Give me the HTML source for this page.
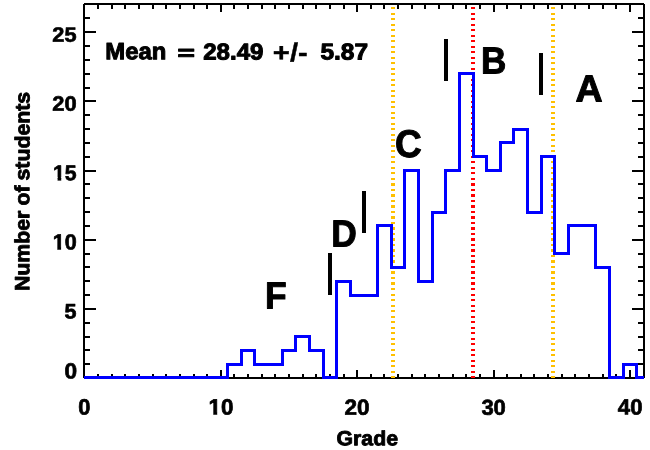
<!DOCTYPE html>
<html><head><meta charset="utf-8"><title>Grade histogram</title>
<style>html,body{margin:0;padding:0;background:#fff;}svg{display:block;}text{font-family:"Liberation Sans",sans-serif;font-weight:bold;fill:#000;}</style></head><body>
<svg width="650" height="450" viewBox="0 0 650 450">
<rect width="650" height="450" fill="#fff"/>
<g shape-rendering="crispEdges">
<g fill="#000">
<rect x="84" y="3" width="560" height="1"/><rect x="83" y="4" width="562" height="1"/>
<rect x="83" y="377" width="562" height="1"/><rect x="84" y="378" width="560" height="1"/>
<rect x="83" y="4" width="1" height="374"/><rect x="84" y="3" width="1" height="376"/>
<rect x="643" y="3" width="1" height="376"/><rect x="644" y="4" width="1" height="374"/>
<rect x="97" y="5" width="2" height="4"/>
<rect x="97" y="374" width="2" height="3"/>
<rect x="111" y="5" width="2" height="4"/>
<rect x="111" y="374" width="2" height="3"/>
<rect x="124" y="5" width="2" height="4"/>
<rect x="124" y="374" width="2" height="3"/>
<rect x="138" y="5" width="2" height="4"/>
<rect x="138" y="374" width="2" height="3"/>
<rect x="152" y="5" width="2" height="4"/>
<rect x="152" y="374" width="2" height="3"/>
<rect x="165" y="5" width="2" height="4"/>
<rect x="165" y="374" width="2" height="3"/>
<rect x="179" y="5" width="2" height="4"/>
<rect x="179" y="374" width="2" height="3"/>
<rect x="193" y="5" width="2" height="4"/>
<rect x="193" y="374" width="2" height="3"/>
<rect x="206" y="5" width="2" height="4"/>
<rect x="206" y="374" width="2" height="3"/>
<rect x="220" y="5" width="2" height="7"/>
<rect x="220" y="370" width="2" height="7"/>
<rect x="233" y="5" width="2" height="4"/>
<rect x="233" y="374" width="2" height="3"/>
<rect x="247" y="5" width="2" height="4"/>
<rect x="247" y="374" width="2" height="3"/>
<rect x="261" y="5" width="2" height="4"/>
<rect x="261" y="374" width="2" height="3"/>
<rect x="274" y="5" width="2" height="4"/>
<rect x="274" y="374" width="2" height="3"/>
<rect x="288" y="5" width="2" height="4"/>
<rect x="288" y="374" width="2" height="3"/>
<rect x="302" y="5" width="2" height="4"/>
<rect x="302" y="374" width="2" height="3"/>
<rect x="315" y="5" width="2" height="4"/>
<rect x="315" y="374" width="2" height="3"/>
<rect x="329" y="5" width="2" height="4"/>
<rect x="329" y="374" width="2" height="3"/>
<rect x="343" y="5" width="2" height="4"/>
<rect x="343" y="374" width="2" height="3"/>
<rect x="356" y="5" width="2" height="7"/>
<rect x="356" y="370" width="2" height="7"/>
<rect x="370" y="5" width="2" height="4"/>
<rect x="370" y="374" width="2" height="3"/>
<rect x="383" y="5" width="2" height="4"/>
<rect x="383" y="374" width="2" height="3"/>
<rect x="397" y="5" width="2" height="4"/>
<rect x="397" y="374" width="2" height="3"/>
<rect x="411" y="5" width="2" height="4"/>
<rect x="411" y="374" width="2" height="3"/>
<rect x="424" y="5" width="2" height="4"/>
<rect x="424" y="374" width="2" height="3"/>
<rect x="438" y="5" width="2" height="4"/>
<rect x="438" y="374" width="2" height="3"/>
<rect x="452" y="5" width="2" height="4"/>
<rect x="452" y="374" width="2" height="3"/>
<rect x="465" y="5" width="2" height="4"/>
<rect x="465" y="374" width="2" height="3"/>
<rect x="479" y="5" width="2" height="4"/>
<rect x="479" y="374" width="2" height="3"/>
<rect x="493" y="5" width="2" height="7"/>
<rect x="493" y="370" width="2" height="7"/>
<rect x="506" y="5" width="2" height="4"/>
<rect x="506" y="374" width="2" height="3"/>
<rect x="520" y="5" width="2" height="4"/>
<rect x="520" y="374" width="2" height="3"/>
<rect x="533" y="5" width="2" height="4"/>
<rect x="533" y="374" width="2" height="3"/>
<rect x="547" y="5" width="2" height="4"/>
<rect x="547" y="374" width="2" height="3"/>
<rect x="561" y="5" width="2" height="4"/>
<rect x="561" y="374" width="2" height="3"/>
<rect x="574" y="5" width="2" height="4"/>
<rect x="574" y="374" width="2" height="3"/>
<rect x="588" y="5" width="2" height="4"/>
<rect x="588" y="374" width="2" height="3"/>
<rect x="602" y="5" width="2" height="4"/>
<rect x="602" y="374" width="2" height="3"/>
<rect x="615" y="5" width="2" height="4"/>
<rect x="615" y="374" width="2" height="3"/>
<rect x="629" y="5" width="2" height="7"/>
<rect x="629" y="370" width="2" height="7"/>
<rect x="85" y="363" width="5" height="2"/>
<rect x="638" y="363" width="5" height="2"/>
<rect x="85" y="349" width="5" height="2"/>
<rect x="638" y="349" width="5" height="2"/>
<rect x="85" y="336" width="5" height="2"/>
<rect x="638" y="336" width="5" height="2"/>
<rect x="85" y="322" width="5" height="2"/>
<rect x="638" y="322" width="5" height="2"/>
<rect x="85" y="308" width="11" height="2"/>
<rect x="632" y="308" width="11" height="2"/>
<rect x="85" y="294" width="5" height="2"/>
<rect x="638" y="294" width="5" height="2"/>
<rect x="85" y="280" width="5" height="2"/>
<rect x="638" y="280" width="5" height="2"/>
<rect x="85" y="266" width="5" height="2"/>
<rect x="638" y="266" width="5" height="2"/>
<rect x="85" y="253" width="5" height="2"/>
<rect x="638" y="253" width="5" height="2"/>
<rect x="85" y="239" width="11" height="2"/>
<rect x="632" y="239" width="11" height="2"/>
<rect x="85" y="225" width="5" height="2"/>
<rect x="638" y="225" width="5" height="2"/>
<rect x="85" y="211" width="5" height="2"/>
<rect x="638" y="211" width="5" height="2"/>
<rect x="85" y="197" width="5" height="2"/>
<rect x="638" y="197" width="5" height="2"/>
<rect x="85" y="183" width="5" height="2"/>
<rect x="638" y="183" width="5" height="2"/>
<rect x="85" y="170" width="11" height="2"/>
<rect x="632" y="170" width="11" height="2"/>
<rect x="85" y="156" width="5" height="2"/>
<rect x="638" y="156" width="5" height="2"/>
<rect x="85" y="142" width="5" height="2"/>
<rect x="638" y="142" width="5" height="2"/>
<rect x="85" y="128" width="5" height="2"/>
<rect x="638" y="128" width="5" height="2"/>
<rect x="85" y="114" width="5" height="2"/>
<rect x="638" y="114" width="5" height="2"/>
<rect x="85" y="100" width="11" height="2"/>
<rect x="632" y="100" width="11" height="2"/>
<rect x="85" y="87" width="5" height="2"/>
<rect x="638" y="87" width="5" height="2"/>
<rect x="85" y="73" width="5" height="2"/>
<rect x="638" y="73" width="5" height="2"/>
<rect x="85" y="59" width="5" height="2"/>
<rect x="638" y="59" width="5" height="2"/>
<rect x="85" y="45" width="5" height="2"/>
<rect x="638" y="45" width="5" height="2"/>
<rect x="85" y="31" width="11" height="2"/>
<rect x="632" y="31" width="11" height="2"/>
<rect x="85" y="17" width="5" height="2"/>
<rect x="638" y="17" width="5" height="2"/>
</g>
<g fill="#ffc000"><rect x="391" y="7" width="4" height="2"/><rect x="391" y="13" width="4" height="2"/><rect x="391" y="18" width="4" height="2"/><rect x="391" y="24" width="4" height="2"/><rect x="391" y="29" width="4" height="2"/><rect x="391" y="35" width="4" height="2"/><rect x="391" y="40" width="4" height="2"/><rect x="391" y="46" width="4" height="2"/><rect x="391" y="51" width="4" height="2"/><rect x="391" y="57" width="4" height="2"/><rect x="391" y="62" width="4" height="2"/><rect x="391" y="68" width="4" height="2"/><rect x="391" y="73" width="4" height="2"/><rect x="391" y="79" width="4" height="2"/><rect x="391" y="84" width="4" height="2"/><rect x="391" y="90" width="4" height="2"/><rect x="391" y="95" width="4" height="2"/><rect x="391" y="101" width="4" height="2"/><rect x="391" y="106" width="4" height="2"/><rect x="391" y="112" width="4" height="2"/><rect x="391" y="117" width="4" height="2"/><rect x="391" y="123" width="4" height="2"/><rect x="391" y="128" width="4" height="2"/><rect x="391" y="134" width="4" height="2"/><rect x="391" y="139" width="4" height="2"/><rect x="391" y="145" width="4" height="2"/><rect x="391" y="150" width="4" height="2"/><rect x="391" y="156" width="4" height="2"/><rect x="391" y="161" width="4" height="2"/><rect x="391" y="167" width="4" height="2"/><rect x="391" y="172" width="4" height="2"/><rect x="391" y="178" width="4" height="2"/><rect x="391" y="183" width="4" height="3"/><rect x="391" y="189" width="4" height="2"/><rect x="391" y="194" width="4" height="3"/><rect x="391" y="200" width="4" height="2"/><rect x="391" y="205" width="4" height="3"/><rect x="391" y="211" width="4" height="2"/><rect x="391" y="216" width="4" height="3"/><rect x="391" y="222" width="4" height="2"/><rect x="391" y="227" width="4" height="3"/><rect x="391" y="233" width="4" height="2"/><rect x="391" y="238" width="4" height="3"/><rect x="391" y="244" width="4" height="2"/><rect x="391" y="249" width="4" height="3"/><rect x="391" y="255" width="4" height="2"/><rect x="391" y="260" width="4" height="3"/><rect x="391" y="266" width="4" height="2"/><rect x="391" y="271" width="4" height="3"/><rect x="391" y="277" width="4" height="2"/><rect x="391" y="282" width="4" height="3"/><rect x="391" y="288" width="4" height="2"/><rect x="391" y="294" width="4" height="2"/><rect x="391" y="299" width="4" height="2"/><rect x="391" y="305" width="4" height="2"/><rect x="391" y="310" width="4" height="2"/><rect x="391" y="316" width="4" height="2"/><rect x="391" y="321" width="4" height="2"/><rect x="391" y="327" width="4" height="2"/><rect x="391" y="332" width="4" height="2"/><rect x="391" y="338" width="4" height="2"/><rect x="391" y="343" width="4" height="2"/><rect x="391" y="349" width="4" height="2"/><rect x="391" y="354" width="4" height="2"/><rect x="391" y="360" width="4" height="2"/><rect x="391" y="365" width="4" height="2"/><rect x="391" y="371" width="4" height="2"/><rect x="391" y="376" width="4" height="2"/></g>
<g fill="#ffc000"><rect x="551" y="7" width="4" height="2"/><rect x="551" y="13" width="4" height="2"/><rect x="551" y="18" width="4" height="2"/><rect x="551" y="24" width="4" height="2"/><rect x="551" y="29" width="4" height="2"/><rect x="551" y="35" width="4" height="2"/><rect x="551" y="40" width="4" height="2"/><rect x="551" y="46" width="4" height="2"/><rect x="551" y="51" width="4" height="2"/><rect x="551" y="57" width="4" height="2"/><rect x="551" y="62" width="4" height="2"/><rect x="551" y="68" width="4" height="2"/><rect x="551" y="73" width="4" height="2"/><rect x="551" y="79" width="4" height="2"/><rect x="551" y="84" width="4" height="2"/><rect x="551" y="90" width="4" height="2"/><rect x="551" y="95" width="4" height="2"/><rect x="551" y="101" width="4" height="2"/><rect x="551" y="106" width="4" height="2"/><rect x="551" y="112" width="4" height="2"/><rect x="551" y="117" width="4" height="2"/><rect x="551" y="123" width="4" height="2"/><rect x="551" y="128" width="4" height="2"/><rect x="551" y="134" width="4" height="2"/><rect x="551" y="139" width="4" height="2"/><rect x="551" y="145" width="4" height="2"/><rect x="551" y="150" width="4" height="2"/><rect x="551" y="156" width="4" height="2"/><rect x="551" y="161" width="4" height="2"/><rect x="551" y="167" width="4" height="2"/><rect x="551" y="172" width="4" height="2"/><rect x="551" y="178" width="4" height="2"/><rect x="551" y="183" width="4" height="3"/><rect x="551" y="189" width="4" height="2"/><rect x="551" y="194" width="4" height="3"/><rect x="551" y="200" width="4" height="2"/><rect x="551" y="205" width="4" height="3"/><rect x="551" y="211" width="4" height="2"/><rect x="551" y="216" width="4" height="3"/><rect x="551" y="222" width="4" height="2"/><rect x="551" y="227" width="4" height="3"/><rect x="551" y="233" width="4" height="2"/><rect x="551" y="238" width="4" height="3"/><rect x="551" y="244" width="4" height="2"/><rect x="551" y="249" width="4" height="3"/><rect x="551" y="255" width="4" height="2"/><rect x="551" y="260" width="4" height="3"/><rect x="551" y="266" width="4" height="2"/><rect x="551" y="271" width="4" height="3"/><rect x="551" y="277" width="4" height="2"/><rect x="551" y="282" width="4" height="3"/><rect x="551" y="288" width="4" height="2"/><rect x="551" y="294" width="4" height="2"/><rect x="551" y="299" width="4" height="2"/><rect x="551" y="305" width="4" height="2"/><rect x="551" y="310" width="4" height="2"/><rect x="551" y="316" width="4" height="2"/><rect x="551" y="321" width="4" height="2"/><rect x="551" y="327" width="4" height="2"/><rect x="551" y="332" width="4" height="2"/><rect x="551" y="338" width="4" height="2"/><rect x="551" y="343" width="4" height="2"/><rect x="551" y="349" width="4" height="2"/><rect x="551" y="354" width="4" height="2"/><rect x="551" y="360" width="4" height="2"/><rect x="551" y="365" width="4" height="2"/><rect x="551" y="371" width="4" height="2"/><rect x="551" y="376" width="4" height="2"/></g>
<g fill="#ff0000"><rect x="471" y="7" width="4" height="2"/><rect x="471" y="13" width="4" height="2"/><rect x="471" y="18" width="4" height="2"/><rect x="471" y="24" width="4" height="2"/><rect x="471" y="29" width="4" height="2"/><rect x="471" y="35" width="4" height="2"/><rect x="471" y="40" width="4" height="2"/><rect x="471" y="46" width="4" height="2"/><rect x="471" y="51" width="4" height="2"/><rect x="471" y="57" width="4" height="2"/><rect x="471" y="62" width="4" height="2"/><rect x="471" y="68" width="4" height="2"/><rect x="471" y="73" width="4" height="2"/><rect x="471" y="79" width="4" height="2"/><rect x="471" y="84" width="4" height="2"/><rect x="471" y="90" width="4" height="2"/><rect x="471" y="95" width="4" height="2"/><rect x="471" y="101" width="4" height="2"/><rect x="471" y="106" width="4" height="2"/><rect x="471" y="112" width="4" height="2"/><rect x="471" y="117" width="4" height="2"/><rect x="471" y="123" width="4" height="2"/><rect x="471" y="128" width="4" height="2"/><rect x="471" y="134" width="4" height="2"/><rect x="471" y="139" width="4" height="2"/><rect x="471" y="145" width="4" height="2"/><rect x="471" y="150" width="4" height="2"/><rect x="471" y="156" width="4" height="2"/><rect x="471" y="161" width="4" height="2"/><rect x="471" y="167" width="4" height="2"/><rect x="471" y="172" width="4" height="2"/><rect x="471" y="178" width="4" height="2"/><rect x="471" y="183" width="4" height="3"/><rect x="471" y="189" width="4" height="2"/><rect x="471" y="194" width="4" height="3"/><rect x="471" y="200" width="4" height="2"/><rect x="471" y="205" width="4" height="3"/><rect x="471" y="211" width="4" height="2"/><rect x="471" y="216" width="4" height="3"/><rect x="471" y="222" width="4" height="2"/><rect x="471" y="227" width="4" height="3"/><rect x="471" y="233" width="4" height="2"/><rect x="471" y="238" width="4" height="3"/><rect x="471" y="244" width="4" height="2"/><rect x="471" y="249" width="4" height="3"/><rect x="471" y="255" width="4" height="2"/><rect x="471" y="260" width="4" height="3"/><rect x="471" y="266" width="4" height="2"/><rect x="471" y="271" width="4" height="3"/><rect x="471" y="277" width="4" height="2"/><rect x="471" y="282" width="4" height="3"/><rect x="471" y="288" width="4" height="2"/><rect x="471" y="294" width="4" height="2"/><rect x="471" y="299" width="4" height="2"/><rect x="471" y="305" width="4" height="2"/><rect x="471" y="310" width="4" height="2"/><rect x="471" y="316" width="4" height="2"/><rect x="471" y="321" width="4" height="2"/><rect x="471" y="327" width="4" height="2"/><rect x="471" y="332" width="4" height="2"/><rect x="471" y="338" width="4" height="2"/><rect x="471" y="343" width="4" height="2"/><rect x="471" y="349" width="4" height="2"/><rect x="471" y="354" width="4" height="2"/><rect x="471" y="360" width="4" height="2"/><rect x="471" y="365" width="4" height="2"/><rect x="471" y="371" width="4" height="2"/><rect x="471" y="376" width="4" height="2"/></g>
<path d="M84.0,377.5 L84.0,377.5 L91.5,377.5 L91.5,377.5 L104.5,377.5 L104.5,377.5 L118.5,377.5 L118.5,377.5 L132.5,377.5 L132.5,377.5 L145.5,377.5 L145.5,377.5 L159.5,377.5 L159.5,377.5 L173.5,377.5 L173.5,377.5 L186.5,377.5 L186.5,377.5 L200.5,377.5 L200.5,377.5 L213.5,377.5 L213.5,377.5 L227.5,377.5 L227.5,364.5 L241.5,364.5 L241.5,350.5 L254.5,350.5 L254.5,364.5 L268.5,364.5 L268.5,364.5 L282.5,364.5 L282.5,350.5 L295.5,350.5 L295.5,336.5 L309.5,336.5 L309.5,350.5 L323.5,350.5 L323.5,377.5 L336.5,377.5 L336.5,281.5 L350.5,281.5 L350.5,295.5 L363.5,295.5 L363.5,295.5 L377.5,295.5 L377.5,225.5 L391.5,225.5 L391.5,267.5 L404.5,267.5 L404.5,170.5 L418.5,170.5 L418.5,281.5 L432.5,281.5 L432.5,212.5 L445.5,212.5 L445.5,170.5 L459.5,170.5 L459.5,73.5 L473.5,73.5 L473.5,156.5 L486.5,156.5 L486.5,170.5 L500.5,170.5 L500.5,142.5 L513.5,142.5 L513.5,129.5 L527.5,129.5 L527.5,212.5 L541.5,212.5 L541.5,156.5 L554.5,156.5 L554.5,253.5 L568.5,253.5 L568.5,225.5 L582.5,225.5 L582.5,225.5 L595.5,225.5 L595.5,267.5 L609.5,267.5 L609.5,377.5 L623.5,377.5 L623.5,364.5 L636.5,364.5 L636.5,377.5 L644.0,377.5" fill="none" stroke="#0000ff" stroke-width="3" stroke-linejoin="miter" stroke-linecap="butt"/>
<g fill="#000">
<rect x="328" y="253" width="4" height="42"/>
<rect x="362" y="191" width="4" height="42"/>
<rect x="444" y="39" width="4" height="42"/>
<rect x="539" y="53" width="4" height="42"/>
</g></g>
<g>
<text transform="translate(105.36,59.34) rotate(0.03)" stroke="#000" stroke-linejoin="round" xml:space="preserve"><tspan x="0.00" y="0.00" font-size="23.520" textLength="60.97" lengthAdjust="spacingAndGlyphs" stroke-width="1.0">Mean</tspan> <tspan x="72.06" y="0.31" font-size="20.786" textLength="17.33" lengthAdjust="spacingAndGlyphs" stroke-width="1.0">=</tspan> <tspan x="97.81" y="0.07" font-size="22.958" textLength="60.34" lengthAdjust="spacingAndGlyphs" stroke-width="1.0">28.49</tspan> <tspan x="167.42" y="1.82" font-size="25.849" textLength="35.05" lengthAdjust="spacingAndGlyphs" stroke-width="0.4">+/-</tspan>  <tspan x="215.10" y="0.06" font-size="22.995" textLength="47.65" lengthAdjust="spacingAndGlyphs" stroke-width="1.0">5.87</tspan></text>
<text transform="translate(52.30,41.78) rotate(0.03) scale(0.9879,0.9435)" font-size="22" stroke="#000" stroke-width="0.7" stroke-linejoin="round" >25</text>
<text transform="translate(52.26,110.66) rotate(0.03) scale(0.9930,0.9494)" font-size="22" stroke="#000" stroke-width="0.7" stroke-linejoin="round" >20</text>
<clipPath id="c_y15"><rect x="45" y="157" width="40" height="20.0"/><rect x="57.6" y="177.0" width="3.62" height="12.0"/><rect x="65.4" y="177.0" width="19.599999999999994" height="12.0"/></clipPath>
<g clip-path="url(#c_y15)"><text transform="translate(52.96,180.18) rotate(0.03) scale(0.9656,0.9712)" font-size="22" stroke="#000" stroke-width="0.7" stroke-linejoin="round" >15</text></g>
<clipPath id="c_y10"><rect x="45" y="226" width="40" height="21.0"/><rect x="57.35" y="247.0" width="3.73" height="12.0"/><rect x="65.4" y="247.0" width="19.599999999999994" height="12.0"/></clipPath>
<g clip-path="url(#c_y10)"><text transform="translate(52.80,249.56) rotate(0.03) scale(0.9796,0.9950)" font-size="22" stroke="#000" stroke-width="0.7" stroke-linejoin="round" >10</text></g>
<text transform="translate(64.48,318.59) rotate(0.03) scale(0.9800,0.9603)" font-size="22" stroke="#000" stroke-width="0.7" stroke-linejoin="round" >5</text>
<text transform="translate(64.40,378.60) rotate(0.03) scale(1.0282,0.9961)" font-size="22" stroke="#000" stroke-width="0.7" stroke-linejoin="round" >0</text>
<text transform="translate(78.24,414.56) rotate(0.03) scale(0.9950,1.0052)" font-size="22" stroke="#000" stroke-width="0.7" stroke-linejoin="round" >0</text>
<clipPath id="c_x10"><rect x="201" y="391" width="40" height="21.0"/><rect x="213.31" y="412.0" width="3.87" height="12.0"/><rect x="221.4" y="412.0" width="19.599999999999994" height="12.0"/></clipPath>
<g clip-path="url(#c_x10)"><text transform="translate(208.47,414.57) rotate(0.03) scale(1.0203,1.0033)" font-size="22" stroke="#000" stroke-width="0.7" stroke-linejoin="round" >10</text></g>
<text transform="translate(344.52,414.70) rotate(0.03) scale(1.0234,0.9995)" font-size="22" stroke="#000" stroke-width="0.7" stroke-linejoin="round" >20</text>
<text transform="translate(481.40,414.67) rotate(0.03) scale(0.9995,0.9809)" font-size="22" stroke="#000" stroke-width="0.7" stroke-linejoin="round" >30</text>
<text transform="translate(617.80,414.60) rotate(0.03) scale(1.0104,1.0008)" font-size="22" stroke="#000" stroke-width="0.7" stroke-linejoin="round" >40</text>
<text transform="translate(336.53,445.19) rotate(0.03) scale(0.9894,0.9525)" font-size="21.5" stroke="#000" stroke-width="0.9" stroke-linejoin="round" >Grade</text>
<text transform="translate(29.31,291.08) rotate(-89.97) scale(0.9900,0.9580)" font-size="21.5" stroke="#000" stroke-width="0.9" stroke-linejoin="round" word-spacing="-0.86">Number of students</text>
<text transform="translate(265.11,308.50) rotate(0.03) scale(0.9456,1.0054)" font-size="37.5" stroke="#000" stroke-width="1.0" stroke-linejoin="round" >F</text>
<text transform="translate(331.14,246.50) rotate(0.03) scale(0.9435,1.0054)" font-size="37.5" stroke="#000" stroke-width="1.0" stroke-linejoin="round" >D</text>
<text transform="translate(395.00,156.94) rotate(0.03) scale(0.9866,1.0329)" font-size="37.5" stroke="#000" stroke-width="1.0" stroke-linejoin="round" >C</text>
<text transform="translate(481.04,73.50) rotate(0.03) scale(0.9348,1.0054)" font-size="37.5" stroke="#000" stroke-width="1.0" stroke-linejoin="round" >B</text>
<text transform="translate(575.45,101.50) rotate(0.03) scale(1.0019,1.0054)" font-size="37.5" stroke="#000" stroke-width="1.0" stroke-linejoin="round" >A</text>
</g>
</svg></body></html>
